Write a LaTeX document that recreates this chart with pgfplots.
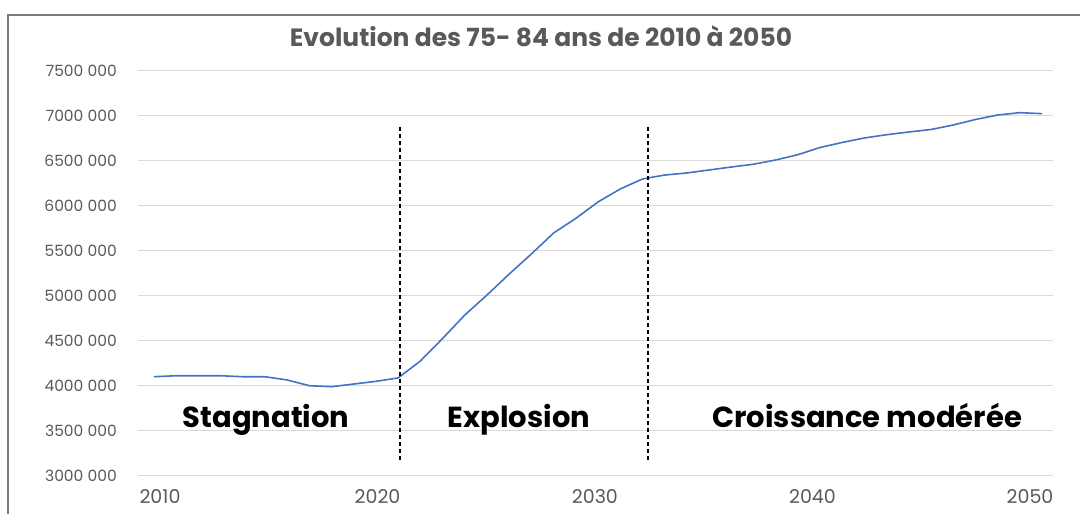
\documentclass[border=0pt]{standalone}
\usepackage{fontspec}
\setmainfont{Poppins}
\usepackage{pgfplots}
\pgfplotsset{compat=1.18}
\definecolor{txtgray}{HTML}{595959}
\definecolor{gridgray}{HTML}{D9D9D9}
\definecolor{lineblue}{HTML}{4472C4}
\begin{document}
\begin{tikzpicture}
\draw[color=txtgray!80, line width=1.5pt] (8pt,0pt) -- (8pt,499pt) -- (1080pt,499pt);
\node[text=txtgray, font=\bfseries\fontsize{25}{28}\selectfont, anchor=base] at (541pt,467pt) {Evolution des 75- 84 ans de 2010 à 2050};
\begin{axis}[
  at={(138pt,38pt)}, anchor=south west,
  scale only axis, width=915pt, height=405pt,
  xmin=2009.279, xmax=2050.495,
  ymin=3000000, ymax=7500000,
  scaled y ticks=false,
  axis x line=bottom, axis y line=left,
  axis line style={draw=none},
  tick style={draw=none}, major tick length=0pt,
  ymajorgrids, major grid style={color=gridgray, line width=1pt},
  ytick={3000000,3500000,4000000,4500000,5000000,5500000,6000000,6500000,7000000,7500000},
  yticklabels={3000 000,3500 000,4000 000,4500 000,5000 000,5500 000,6000 000,6500 000,7000 000,7500 000},
  xtick={2010.27,2020.07,2029.86,2039.66,2049.46},
  xticklabels={2010,2020,2030,2040,2050},
  /pgf/number format/assume math mode=true,
  yticklabel style={anchor=east, inner sep=0pt, xshift=-21pt, text=txtgray, font=\fontsize{15.5}{17}\selectfont},
  xticklabel style={anchor=north, inner sep=0pt, yshift=-13pt, text=txtgray, font=\fontsize{19}{21}\selectfont},
  clip=false,
]
\addplot[color=lineblue, line width=1.6pt] coordinates {
(2010,4103000) (2011,4114000) (2012,4114000) (2013,4114000) (2014,4103000)
(2015,4103000) (2016,4067000) (2017,4003000) (2018,3992000) (2019,4022000)
(2020,4052000) (2021,4090000) (2022,4278000) (2023,4528000) (2024,4789000)
(2025,5011000) (2026,5244000) (2027,5467000) (2028,5700000) (2029,5862000)
(2030,6045000) (2031,6189000) (2032,6300000) (2033,6344000) (2034,6367000)
(2035,6400000) (2036,6433000) (2037,6464000) (2038,6511000) (2039,6570000)
(2040,6650000) (2041,6706000) (2042,6756000) (2043,6792000) (2044,6822000)
(2045,6850000) (2046,6900000) (2047,6961000) (2048,7011000) (2049,7037000)
(2050,7026000)
};
\draw[black, line width=1.3pt, dash pattern=on 4pt off 3pt] (axis cs:2021.08,3177800) -- (axis cs:2021.08,6900000);
\draw[black, line width=1.3pt, dash pattern=on 4pt off 3pt] (axis cs:2032.25,3177800) -- (axis cs:2032.25,6900000);
\node[anchor=base, font=\bfseries\fontsize{29}{32}\selectfont] at (axis cs:2015.05,3544000) {Stagnation};
\node[anchor=base, font=\bfseries\fontsize{29}{32}\selectfont] at (axis cs:2026.44,3544000) {Explosion};
\node[anchor=base, font=\bfseries\fontsize{29}{32}\selectfont] at (axis cs:2042.12,3544000) {Croissance modérée};
\end{axis}
\pgfresetboundingbox
\useasboundingbox (0pt,0pt) rectangle (1080pt,514pt);
\end{tikzpicture}
\end{document}
